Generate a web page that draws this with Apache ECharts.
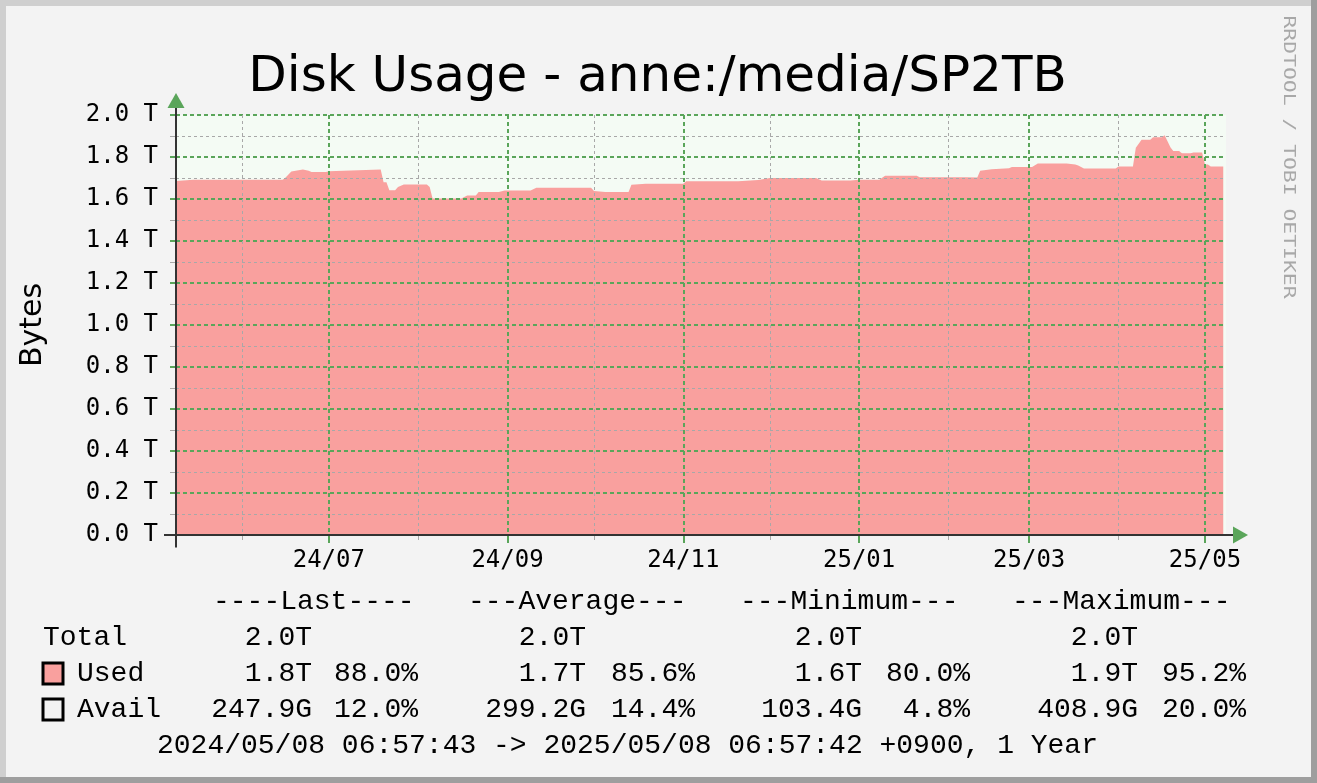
<!DOCTYPE html>
<html><head><meta charset="utf-8">
<script src="https://cdn.jsdelivr.net/npm/echarts@6/dist/echarts.min.js"></script>
<style>html,body{margin:0;padding:0;background:#f3f3f3}#c{width:1317px;height:783px}</style>
</head><body><div id="c"></div><script>
// ---------------- data ----------------
const titleText = 'Disk Usage - anne:/media/SP2TB';
const yAxisName = 'Bytes';
const watermark = 'RRDTOOL / TOBI OETIKER';
const periodStart = '2024-05-08 06:57:43';
const periodEnd = '2025-05-08 06:57:42';
const plotStart = '2024-05-08 23:30:00'; // first visible pixel column of the plot
const yMin = 0, yMax = 2.0, yStep = 0.2;
const majorMonths = ['2024-07-01','2024-09-01','2024-11-01','2025-01-01','2025-03-01','2025-05-01'];
const minorMonths = ['2024-06-01','2024-08-01','2024-10-01','2024-12-01','2025-02-01','2025-04-01'];
const dates = [
 '2024-05-09','2024-05-15','2024-06-15','2024-06-16','2024-06-18','2024-06-22','2024-06-24','2024-06-25','2024-06-30',
 '2024-07-01','2024-07-19','2024-07-20','2024-07-21','2024-07-22','2024-07-24','2024-07-25','2024-07-27','2024-08-04',
 '2024-08-05','2024-08-06','2024-08-16','2024-08-18','2024-08-21','2024-08-22','2024-08-29','2024-08-31','2024-09-09',
 '2024-09-11','2024-09-30','2024-10-01','2024-10-05','2024-10-13','2024-10-14','2024-10-19','2024-11-01','2024-11-02',
 '2024-11-20','2024-11-27','2024-12-01','2024-12-17','2024-12-19','2024-12-29','2025-01-01','2025-01-08','2025-01-10',
 '2025-01-21','2025-01-22','2025-02-07','2025-02-11','2025-02-12','2025-02-16','2025-02-22','2025-02-23','2025-03-02',
 '2025-03-04','2025-03-14','2025-03-17','2025-03-18','2025-03-20','2025-03-31','2025-04-01','2025-04-06','2025-04-07',
 '2025-04-09','2025-04-12','2025-04-13','2025-04-16','2025-04-17','2025-04-19','2025-04-20','2025-04-22','2025-04-23',
 '2025-04-26','2025-04-27','2025-04-30','2025-05-01','2025-05-02','2025-05-03','2025-05-07 08:00:00'
];
const usedTB = [
 1.686,1.692,1.692,1.702,1.731,1.741,1.735,1.728,1.728,
 1.732,1.741,1.680,1.680,1.642,1.642,1.657,1.669,1.669,
 1.657,1.602,1.602,1.617,1.617,1.633,1.633,1.641,1.641,
 1.654,1.654,1.638,1.633,1.633,1.668,1.673,1.673,1.684,
 1.685,1.690,1.700,1.700,1.688,1.688,1.692,1.692,1.711,
 1.711,1.703,1.703,1.702,1.735,1.742,1.747,1.752,1.752,
 1.769,1.769,1.764,1.759,1.745,1.745,1.755,1.755,1.844,
 1.882,1.882,1.894,1.894,1.903,1.847,1.828,1.828,1.818,
 1.818,1.821,1.821,1.764,1.764,1.755,1.755
];
const statHeaders = ['----Last----','---Average---','---Minimum---','---Maximum---'];
const rowNames = ['Total','Used','Avail'];
const totalVals = ['2.0T','2.0T','2.0T','2.0T'];
const usedVals = ['1.8T','1.7T','1.6T','1.9T'];
const usedPcts = ['88.0%','85.6%','80.0%','95.2%'];
const availVals = ['247.9G','299.2G','103.4G','408.9G'];
const availPcts = ['12.0%','14.4%','4.8%','20.0%'];
const periodText = '2024/05/08 06:57:43 -> 2025/05/08 06:57:42 +0900, 1 Year';

// ---------------- helpers ----------------
function toTs(s){
  const m = s.match(/(\d+)-(\d+)-(\d+)(?:[ T](\d+):(\d+):(\d+))?/);
  return new Date(+m[1], +m[2]-1, +m[3], +(m[4]||0), +(m[5]||0), +(m[6]||0)).getTime();
}
const seriesData = dates.map((d,i)=>[toTs(d), usedTB[i]]);

const RED = '#f9a09e', GREEN = '#5aa55a', GREY = '#a8a8a8', PLOTBG = '#f4fbf4';
const MONO = "'DejaVu Sans Mono', monospace";
const LEG = "'Liberation Mono', 'DejaVu Sans Mono', monospace";

const chart = echarts.init(document.getElementById('c'), null, {renderer:'canvas'});
const xMin = toTs(plotStart), xMax = toTs(periodEnd);
const option = {
  backgroundColor: '#f3f3f3',
  animation: false,
  grid: { left: 176, right: 91, top: 115, bottom: 248, show: true, backgroundColor: PLOTBG, borderWidth: 0,
          containLabel: false, outerBoundsMode: 'none' },
  xAxis: [
    { type: 'value', position: 'bottom', min: xMin, max: xMax, z: 3, scale: true,
      axisLine: { show: false },
      axisTick: { show: true, length: 8, customValues: majorMonths.map(toTs), lineStyle: { color: GREEN, width: 2 } },
      axisLabel: { show: true, customValues: majorMonths.map(toTs), margin: 14, color: '#000',
        fontFamily: MONO, fontSize: 24, showMinLabel: true, showMaxLabel: true, hideOverlap: false,
        formatter: v => { const d = new Date(v); return String(d.getFullYear()).slice(2) + '/' + String(d.getMonth()+1).padStart(2,'0'); } },
      splitLine: { show: true, lineStyle: { color: GREEN, width: 2, type: [4,3] } }
    },
    { type: 'value', position: 'bottom', min: xMin, max: xMax, z: 3, scale: true,
      axisLine: { show: false },
      axisTick: { show: true, length: 5, customValues: minorMonths.map(toTs), lineStyle: { color: GREY, width: 1 } },
      axisLabel: { show: false },
      splitLine: { show: true, lineStyle: { color: GREY, width: 1, type: [3,3] } }
    }
  ],
  yAxis: {
    type: 'value', min: yMin, max: yMax, interval: yStep, z: 3,
    name: yAxisName, nameLocation: 'middle', nameRotate: 90, nameGap: 128,
    nameTextStyle: { fontFamily: "'DejaVu Sans', sans-serif", fontSize: 30, color: '#000' },
    axisLine: { show: false },
    axisTick: { show: true, length: 6, lineStyle: { color: GREEN, width: 2 } },
    minorTick: { show: true, splitNumber: 2, length: 6, lineStyle: { color: GREY, width: 1 } },
    axisLabel: { margin: 18, color: '#000', fontFamily: MONO, fontSize: 24, formatter: v => v.toFixed(1) + ' T' },
    splitLine: { show: true, lineStyle: { color: GREEN, width: 2, type: [4,3] } },
    minorSplitLine: { show: true, lineStyle: { color: GREY, width: 1, type: [3,3] } }
  },
  series: [{
    type: 'line', xAxisIndex: 0, yAxisIndex: 0, data: seriesData, symbol: 'none', showSymbol: false,
    lineStyle: { width: 0 }, areaStyle: { color: RED, opacity: 1 }, z: 2, clip: true
  }]
};
chart.setOption(option);

// ---------------- decorations ----------------
const o = chart.convertToPixel({gridIndex: 0}, [xMin, yMin]);
const e = chart.convertToPixel({gridIndex: 0}, [xMax, yMax]);
const g = [];
// frame
g.push({ type:'rect', shape:{x:0,y:0,width:1317,height:6}, style:{fill:'#cfcfcf'}, z:100 });
g.push({ type:'rect', shape:{x:0,y:0,width:6,height:783}, style:{fill:'#cfcfcf'}, z:100 });
g.push({ type:'rect', shape:{x:1311,y:0,width:6,height:783}, style:{fill:'#9e9e9e'}, z:101 });
g.push({ type:'rect', shape:{x:0,y:777,width:1317,height:6}, style:{fill:'#9e9e9e'}, z:101 });
// axes with arrows
g.push({ type:'line', shape:{x1:o[0]-12, y1:o[1], x2:e[0]+7, y2:o[1]}, style:{stroke:'#333', lineWidth:2}, z:50 });
g.push({ type:'line', shape:{x1:o[0], y1:o[1]+12.5, x2:o[0], y2:e[1]-7}, style:{stroke:'#333', lineWidth:2}, z:50 });
g.push({ type:'polygon', shape:{points:[[e[0]+7,o[1]-8.5],[e[0]+22,o[1]],[e[0]+7,o[1]+8.5]]}, style:{fill:GREEN}, z:50 });
g.push({ type:'polygon', shape:{points:[[o[0]-8.5,e[1]-7],[o[0],e[1]-22],[o[0]+8.5,e[1]-7]]}, style:{fill:GREEN}, z:50 });
// title
g.push({ type:'text', x:657.5, y:78, style:{ text:titleText, fill:'#000', font:"50px 'DejaVu Sans', sans-serif", align:'center', verticalAlign:'middle' }, z:60 });
// watermark
g.push({ type:'text', x:1288, y:157, rotation:-Math.PI/2, scaleX:1.336, scaleY:1,
  style:{ text:watermark, fill:'#a8a8a8', font:"16px 'DejaVu Sans Mono', monospace", align:'center', verticalAlign:'middle' }, z:60 });
// legend
function t(text, x, y, align){ g.push({ type:'text', x:x, y:y, style:{ text:text, fill:'#000', font:"28px " + LEG, align:align||'left', verticalAlign:'middle' }, z:60 }); }
const headX = [213, 468, 740, 1012];
const valR = [312, 586, 862, 1138];
const pctR = [418, 695, 970, 1246];
const rowY = [602, 638, 674, 710, 746];
statHeaders.forEach((h,i)=>t(h, headX[i], rowY[0]));
t(rowNames[0], 43, rowY[1]);
t(rowNames[1], 77, rowY[2]);
t(rowNames[2], 77, rowY[3]);
totalVals.forEach((v,i)=>t(v, valR[i], rowY[1], 'right'));
usedVals.forEach((v,i)=>t(v, valR[i], rowY[2], 'right'));
usedPcts.forEach((v,i)=>t(v, pctR[i], rowY[2], 'right'));
availVals.forEach((v,i)=>t(v, valR[i], rowY[3], 'right'));
availPcts.forEach((v,i)=>t(v, pctR[i], rowY[3], 'right'));
t(periodText, 157, rowY[4]);
g.push({ type:'rect', shape:{x:43, y:rowY[2]-11, width:20, height:21}, style:{fill:RED, stroke:'#000', lineWidth:3}, z:60 });
g.push({ type:'rect', shape:{x:43, y:rowY[3]-11, width:20, height:21}, style:{fill:'none', stroke:'#000', lineWidth:3}, z:60 });
chart.setOption({ graphic: g });
</script></body></html>
